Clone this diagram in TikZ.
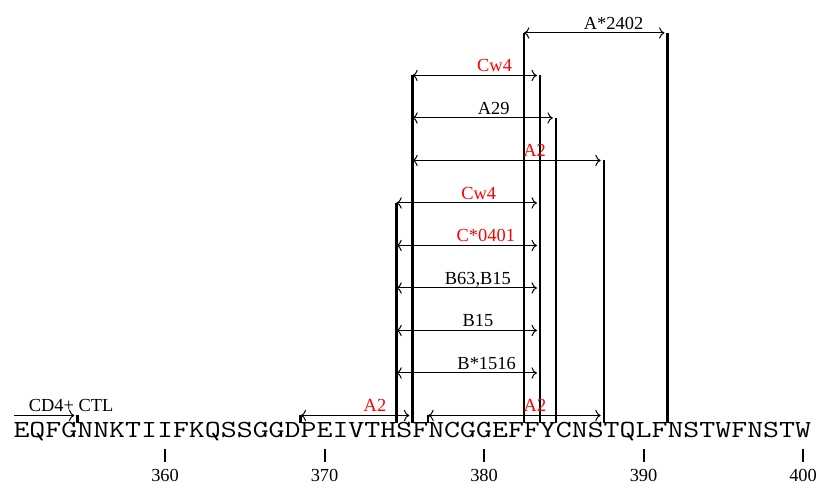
\documentclass[tikz,border=0pt]{standalone}
\usepackage{graphicx}
\usepackage{fontspec}
\setmainfont{Liberation Serif}
\usetikzlibrary{arrows.meta, positioning}

\begin{document}
\begin{tikzpicture}[
        x=7.975pt, y=21.25pt,
        font=\fontsize{9.2}{11}\selectfont,
        span/.style={
            {To}-{To},
            line width=0.5pt,
            shorten >=1.5pt
        },
        bar/.style={line width=1.2pt},
        tag/.style={anchor=base, inner sep=0pt, yshift=1.8pt}
    ]
    \useasboundingbox (349.655,-1.776) rectangle (401.003,9.776);

    % Sequence, residues 351--400
    \node[anchor=base, inner sep=0pt, font=\fontsize{12.27}{14}\ttfamily] (seq) at (375.5,-0.51)
        {\resizebox{398.75pt}{\height}{EQFGNNKTIIFKQSSGGDPEIVTHSFNCGGEFFYCNSTQLFNSTWFNSTW}};

    % Position ruler
    \foreach \n in {360,370,...,400} {
        \coordinate (k\n) at (\n,-0.788);
        \coordinate (k\n-end) at (\n,-1.094);
        \draw[line width=1pt] (k\n) -- (k\n-end);
        \node[anchor=base, inner sep=0pt] (n\n) at (\n,-1.553) {\n};
    }

    % Epitope boundaries (top of each bar)
    \foreach \name/\px/\lev in {b374/374.5/5, b375/375.5/8, b382/382.5/9, b383/383.5/8,
                                b384/384.5/7, b387/387.5/6, b391/391.5/9,
                                b354/354.5/0, b368/368.5/0, b376/376.5/0} {
        \coordinate (\name) at (\px,\lev);
        \coordinate (\name-foot) at (\px,-0.176);
        \draw[bar] (\name) -- (\name-foot);
    }

    % Mapped epitopes, one per level
    \foreach \lev/\a/\b/\txt/\col/\lx in {
            9/382.5/391.5/A*2402/black/388.12,
            8/375.5/383.5/Cw4/red/380.66,
            7/375.5/384.5/A29/black/380.60,
            6/375.5/387.5/A2/red/383.17,
            5/374.5/383.5/Cw4/red/379.66,
            4/374.5/383.5/C*0401/red/380.11,
            3/374.5/383.5/{B63,B15}/black/379.61,
            2/374.5/383.5/B15/black/379.62,
            1/374.5/383.5/B*1516/black/380.16} {
        \coordinate (l\lev) at (\a,\lev);
        \coordinate (r\lev) at (\b,\lev);
        \draw[span] (l\lev) -- (r\lev);
        \node[tag, text=\col] (t\lev) at (\lx,\lev) {\txt};
    }

    % Bottom level
    \coordinate (cd4) at (350.55,0);
    \draw[span, -{To}] (cd4) -- (b354);
    \node[tag] (tcd4) at (354.11,0) {CD4+ CTL};

    \draw[span] (b368) -- (b375 |- b368);
    \node[tag, text=red] (tA2a) at (373.16,0) {A2};

    \draw[span] (b376) -- (b387 |- b376);
    \node[tag, text=red] (tA2b) at (383.19,0) {A2};

\end{tikzpicture}
\end{document}
